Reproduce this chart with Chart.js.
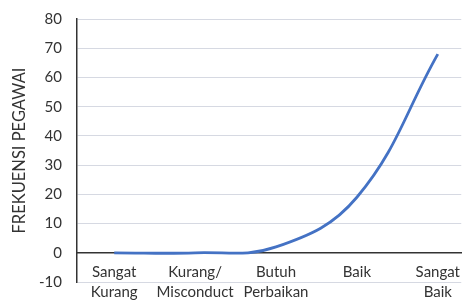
<!DOCTYPE html>
<html>
<head>
    <title>Frekuensi Pegawai</title>
    <script src="https://cdn.jsdelivr.net/npm/chart.js"></script>
    <style>
        html, body { margin: 0; padding: 0; background: #fff; }
        #chartContainer { width: 469px; height: 302px; }
    </style>
</head>
<body>
    <div id="chartContainer">
        <canvas id="myChart" width="469" height="302"></canvas>
    </div>
    <script>
        // kategori dan nilai
        const categories = [
            ['Sangat', 'Kurang'],
            ['Kurang/', 'Misconduct'],
            ['Butuh', 'Perbaikan'],
            ['Baik'],
            ['Sangat', 'Baik']
        ];
        const frekuensi = [0, 0, 2, 19, 68];
        const yTicks = [-10, 0, 10, 20, 30, 40, 50, 60, 70, 80];

        const dark = '#333333';
        const points = frekuensi.map((v, i) => ({ x: i, y: v }));

        const ctx = document.getElementById('myChart').getContext('2d');
        const myChart = new Chart(ctx, {
            type: 'line',
            data: {
                datasets: [{
                    label: 'Frekuensi Pegawai',
                    data: points,
                    borderColor: '#4472c4',
                    borderWidth: 2.8,
                    pointRadius: 0,
                    tension: 0.4,
                    fill: false
                }]
            },
            options: {
                responsive: false,
                animation: false,
                layout: { padding: { top: 19, bottom: 20, left: 0, right: 0 } },
                plugins: { legend: { display: false }, tooltip: { enabled: false } },
                scales: {
                    x: {
                        type: 'linear',
                        position: { y: 0 },
                        min: -0.46,
                        max: 4.29,
                        grid: { display: false, drawTicks: false },
                        border: { display: true, color: dark, width: 1.5 },
                        ticks: {
                            stepSize: 1,
                            includeBounds: false,
                            autoSkip: false,
                            maxRotation: 0,
                            padding: 9,
                            color: dark,
                            font: { family: 'Lato', size: 15, lineHeight: 1.35 },
                            callback: v => Number.isInteger(v) ? categories[v] : ''
                        }
                    },
                    y: {
                        min: -10,
                        max: 80,
                        afterFit: s => { s.width = 77; },
                        afterBuildTicks: s => { s.ticks = yTicks.map(v => ({ value: v })); },
                        grid: { color: '#d6d9e2', drawTicks: true, tickLength: 15, tickColor: 'rgba(0,0,0,0)' },
                        border: { display: true, color: dark, width: 1.5 },
                        ticks: {
                            padding: 0,
                            color: dark,
                            font: { family: 'Lato', size: 15 }
                        },
                        title: {
                            display: true,
                            text: 'FREKUENSI PEGAWAI',
                            color: dark,
                            font: { family: 'Lato', size: 16.5 },
                            padding: { top: 10, bottom: 0 }
                        }
                    }
                }
            }
        });
    </script>
</body>
</html>
